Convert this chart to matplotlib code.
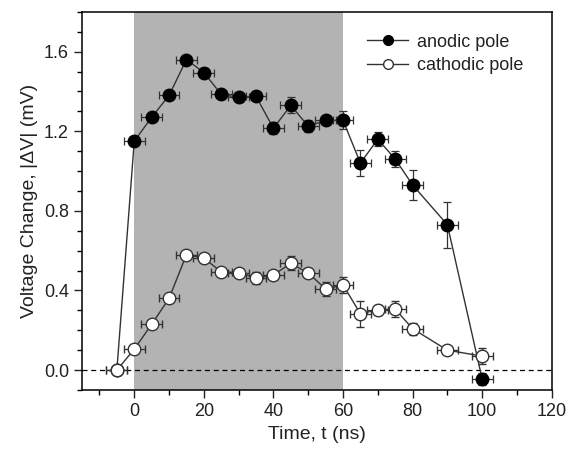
import matplotlib
matplotlib.use("Agg")
import matplotlib.pyplot as plt
from matplotlib.ticker import MultipleLocator
from matplotlib.lines import Line2D

plt.rcParams['font.family'] = ['Liberation Sans', 'DejaVu Sans']

t_anodic = [-5, 0, 5, 10, 15, 20, 25, 30, 35, 40, 45, 50, 55, 60, 65, 70, 75, 80, 90, 100]
v_anodic = [0.0, 1.15, 1.27, 1.38, 1.56, 1.495, 1.385, 1.37, 1.375, 1.215, 1.33, 1.225, 1.255, 1.255,
            1.04, 1.16, 1.06, 0.93, 0.73, -0.045]
verr_anodic = [0.0, 0.02, 0.02, 0.02, 0.02, 0.025, 0.02, 0.02, 0.02, 0.03, 0.04, 0.03, 0.02, 0.045,
               0.065, 0.035, 0.04, 0.075, 0.115, 0.03]

t_cathodic = [-5, 0, 5, 10, 15, 20, 25, 30, 35, 40, 45, 50, 55, 60, 65, 70, 75, 80, 90, 100]
v_cathodic = [0.0, 0.105, 0.23, 0.36, 0.58, 0.563, 0.493, 0.49, 0.463, 0.478, 0.536, 0.488, 0.407, 0.428,
              0.283, 0.303, 0.306, 0.208, 0.10, 0.07]
verr_cathodic = [0.0, 0.02, 0.02, 0.02, 0.02, 0.02, 0.02, 0.02, 0.03, 0.02, 0.035, 0.02, 0.035, 0.04,
                 0.065, 0.025, 0.04, 0.03, 0.02, 0.04]
t_err = 3.0

fig = plt.figure(figsize=(5.7, 4.54), dpi=100)
ax = fig.add_axes([0.144, 0.141, 0.824, 0.833])

ax.axvspan(0, 60, color='#b3b3b3', zorder=0, lw=0)
ax.axhline(0, color='black', ls=(0, (4, 3)), lw=0.9, zorder=1)

ax.errorbar(t_anodic, v_anodic, yerr=verr_anodic, xerr=t_err, fmt='-o', color='#333333',
            mfc='black', mec='black', ms=9, lw=1.0, elinewidth=0.9, capsize=3, capthick=0.9,
            zorder=3)
ax.errorbar(t_cathodic, v_cathodic, yerr=verr_cathodic, xerr=t_err, fmt='-o', color='#333333',
            mfc='white', mec='#333333', ms=9, mew=1.0, lw=1.0, elinewidth=0.9, capsize=3, capthick=0.9,
            zorder=4)

ax.set_xlim(-15, 120)
ax.set_ylim(-0.1, 1.8)
ax.xaxis.set_major_locator(MultipleLocator(20))
ax.xaxis.set_minor_locator(MultipleLocator(10))
ax.yaxis.set_major_locator(MultipleLocator(0.4))
ax.yaxis.set_minor_locator(MultipleLocator(0.1))
ax.yaxis.set_major_formatter(matplotlib.ticker.FormatStrFormatter('%.1f'))
ax.tick_params(which='major', direction='out', length=6, width=1, labelsize=13, colors='#222222')
ax.tick_params(which='minor', direction='out', length=3.5, width=1)
for s in ax.spines.values():
    s.set_linewidth(1.1)

ax.set_xlabel('Time, t (ns)', fontsize=14, color='#222222')
ax.set_ylabel('Voltage Change, |ΔV| (mV)', fontsize=14, color='#222222')

handles = [Line2D([], [], color='#333333', marker='o', mfc='black', mec='black', ms=7, lw=1.0),
           Line2D([], [], color='#333333', marker='o', mfc='white', mec='#333333', ms=7, lw=1.0)]
ax.legend(handles, ['anodic pole', 'cathodic pole'], loc='upper right', bbox_to_anchor=(0.975, 0.985),
          frameon=False, fontsize=13, handlelength=2.3, handletextpad=0.5, labelspacing=0.35,
          labelcolor='#222222')

fig.savefig('out.png', dpi=100)
